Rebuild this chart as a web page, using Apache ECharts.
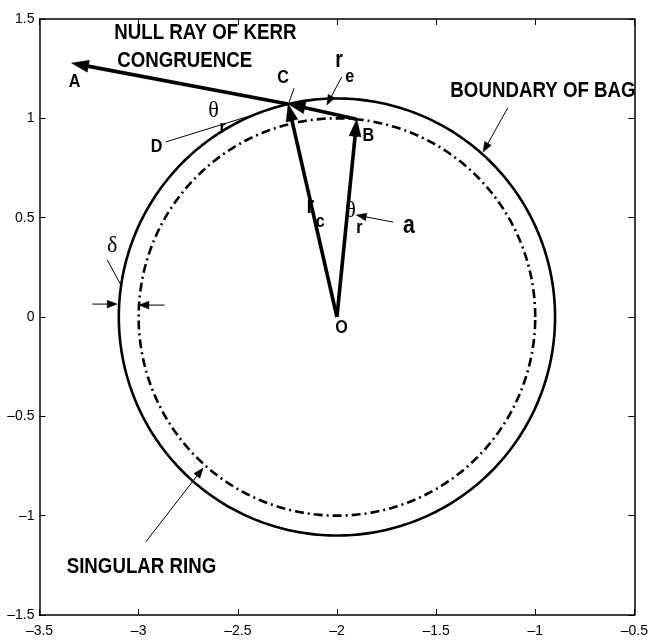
<!DOCTYPE html>
<html>
<head>
<meta charset="utf-8">
<script src="https://cdn.jsdelivr.net/npm/echarts@6/dist/echarts.min.js"></script>
<style>
html,body{margin:0;padding:0;background:#fff;}
#chart{width:651px;height:640px;}
</style>
</head>
<body>
<div id="chart"></div>
<script>
// ---- axis ticks ----
const xTicks = [-3.5, -3, -2.5, -2, -1.5, -1, -0.5];
const yTicks = [-1.5, -1, -0.5, 0, 0.5, 1, 1.5];

// ---- circles: [centerX, centerY, radius] ----
const bagCircle = [-2, 0, 1.1];      // boundary of bag (solid)
const ringCircle = [-2, 0, 1.0];     // singular ring (dash-dot)

// ---- arrows: [x1, y1, x2, y2] ----
const thickArrows = [
  [-2, 0, -2.246, 1.072],        // O -> C (r_c)
  [-2, 0, -1.9, 0.995],          // O -> B (a)
  [-1.9, 0.995, -2.246, 1.072],  // B -> C (r_e)
  [-2.246, 1.072, -3.338, 1.278] // C -> A (null ray)
];
const thinArrows = [
  [-1.976, 1.208, -2.051, 1.067], // r_e pointer
  [-1.139, 1.052, -1.263, 0.830], // boundary of bag pointer
  [-1.717, 0.478, -1.902, 0.513], // a pointer
  [-2.964, -1.132, -2.675, -0.760], // singular ring pointer
  [-3.233, 0.065, -3.108, 0.065], // delta left
  [-2.869, 0.060, -2.999, 0.060]  // delta right
];
const thinLines = [
  [-2.864, 0.881, -2.246, 1.072], // D tangent
  [-2.241, 1.082, -2.216, 1.152], // C leader
  [-3.158, 0.287, -3.084, 0.151]  // delta leader
];

// ---- labels: [x, y] , text, style ----
const labelPos = [
  [-3.123, 1.430], [-3.108, 1.288], [-1.428, 1.137], [-3.363, -1.258],
  [-3.323, 1.183], [-2.271, 1.203], [-2.909, 0.856], [-1.842, 0.911], [-1.977, -0.055],
  [-1.637, 0.458],
  [-1.989, 1.291], [-1.935, 1.207],
  [-2.134, 0.553], [-2.084, 0.478],
  [-1.932, 0.533], [-1.887, 0.447],
  [-2.622, 1.036], [-2.577, 0.951],
  [-3.133, 0.357]
];
const labelText = [
  'NULL RAY OF KERR', 'CONGRUENCE', 'BOUNDARY OF BAG', 'SINGULAR RING',
  'A', 'C', 'D', 'B', 'O',
  'a',
  'r', 'e',
  'r', 'c',
  'θ', 'r',
  'θ', 'r',
  'δ'
];
const labelKind = [
  'big', 'big', 'big', 'big',
  'letter', 'letter', 'letter', 'letter', 'letter',
  'a',
  'sym', 'sub',
  'sym', 'sub',
  'greek', 'sub',
  'greek', 'sub',
  'greek'
];

const SANS = '"Liberation Sans", Arial, sans-serif';
const fonts = {
  big:    'bold 22px ' + SANS,
  letter: 'bold 19px ' + SANS,
  a:      'bold 25px ' + SANS,
  sym:    'bold 23px ' + SANS,
  sub:    'bold 19px ' + SANS,
  greek:  '24px "Liberation Serif", "DejaVu Serif", serif'
};
const squeeze = { big: 0.85, letter: 0.85, a: 0.85, sym: 0.85, sub: 0.85, greek: 0.92 };
const aligns = { big: 'left' };

function fmt(v) {
  return (v < 0 ? '\u2013' : '') + String(Math.abs(v));
}

function circleSeries(c, style) {
  return {
    type: 'custom',
    clip: false,
    silent: true,
    data: [c],
    renderItem: function (params, api) {
      const cx = api.value(0), cy = api.value(1), r = api.value(2);
      const pts = [];
      for (let k = 0; k <= 360; k++) {
        const t = k * Math.PI / 180;
        pts.push(api.coord([cx + r * Math.cos(t), cy + r * Math.sin(t)]));
      }
      return { type: 'polyline', shape: { points: pts }, style: Object.assign({ stroke: '#000', fill: null }, style) };
    }
  };
}

function arrowSeries(list, lw, headLen, headHalf) {
  return {
    type: 'custom',
    clip: false,
    silent: true,
    data: list,
    renderItem: function (params, api) {
      const p1 = api.coord([api.value(0), api.value(1)]);
      const p2 = api.coord([api.value(2), api.value(3)]);
      const dx = p2[0] - p1[0], dy = p2[1] - p1[1];
      const L = Math.sqrt(dx * dx + dy * dy);
      const ux = dx / L, uy = dy / L;
      const children = [];
      if (headLen > 0) {
        const bx = p2[0] - ux * headLen, by = p2[1] - uy * headLen;
        children.push({ type: 'line', shape: { x1: p1[0], y1: p1[1], x2: bx + ux * 2, y2: by + uy * 2 },
          style: { stroke: '#000', lineWidth: lw } });
        children.push({ type: 'polygon', shape: { points: [
          [p2[0], p2[1]],
          [bx - uy * headHalf, by + ux * headHalf],
          [bx + uy * headHalf, by - ux * headHalf]
        ] }, style: { fill: '#000', stroke: '#000', lineWidth: 0.5 } });
      } else {
        children.push({ type: 'line', shape: { x1: p1[0], y1: p1[1], x2: p2[0], y2: p2[1] },
          style: { stroke: '#000', lineWidth: lw } });
      }
      return { type: 'group', children: children };
    }
  };
}

const labelSeries = {
  type: 'custom',
  clip: false,
  silent: true,
  data: labelPos,
  renderItem: function (params, api) {
    const i = params.dataIndex;
    const p = api.coord([api.value(0), api.value(1)]);
    const kind = labelKind[i];
    return {
      type: 'text',
      x: p[0], y: p[1],
      scaleX: squeeze[kind],
      style: {
        text: labelText[i],
        font: fonts[kind],
        fill: '#000',
        textAlign: aligns[kind] || 'center',
        textVerticalAlign: 'middle'
      }
    };
  }
};

const axisCommon = {
  type: 'value',
  axisLine: { show: true, onZero: false, lineStyle: { color: '#000', width: 1.5 } },
  axisTick: { show: true, inside: true, length: 6, lineStyle: { color: '#000', width: 1 } },
  splitLine: { show: false }
};

const chart = echarts.init(document.getElementById('chart'), null, { renderer: 'canvas' });
chart.setOption({
  backgroundColor: '#fff',
  animation: false,
  grid: { left: 39.5, right: 10, top: 19, bottom: 25, containLabel: false },
  xAxis: [
    Object.assign({}, axisCommon, {
      position: 'bottom', min: xTicks[0], max: xTicks[xTicks.length - 1], interval: 0.5,
      axisLabel: { show: true, formatter: fmt, color: '#000', fontSize: 14, fontFamily: SANS, margin: 9,
        showMinLabel: true, showMaxLabel: true }
    }),
    Object.assign({}, axisCommon, {
      position: 'top', min: xTicks[0], max: xTicks[xTicks.length - 1], interval: 0.5,
      axisLabel: { show: false }
    })
  ],
  yAxis: [
    Object.assign({}, axisCommon, {
      position: 'left', min: yTicks[0], max: yTicks[yTicks.length - 1], interval: 0.5,
      axisLabel: { show: true, formatter: fmt, color: '#000', fontSize: 14, fontFamily: SANS, margin: 5,
        showMinLabel: true, showMaxLabel: true }
    }),
    Object.assign({}, axisCommon, {
      position: 'right', min: yTicks[0], max: yTicks[yTicks.length - 1], interval: 0.5,
      axisLabel: { show: false }
    })
  ],
  series: [
    circleSeries(bagCircle, { lineWidth: 2.6 }),
    circleSeries(ringCircle, { lineWidth: 2.6, lineDash: [9, 4, 2, 4] }),
    arrowSeries(thinLines, 1, 0, 0),
    arrowSeries(thinArrows, 1, 10, 3.8),
    arrowSeries(thickArrows, 3.6, 17, 6),
    labelSeries
  ]
});
</script>
</body>
</html>
